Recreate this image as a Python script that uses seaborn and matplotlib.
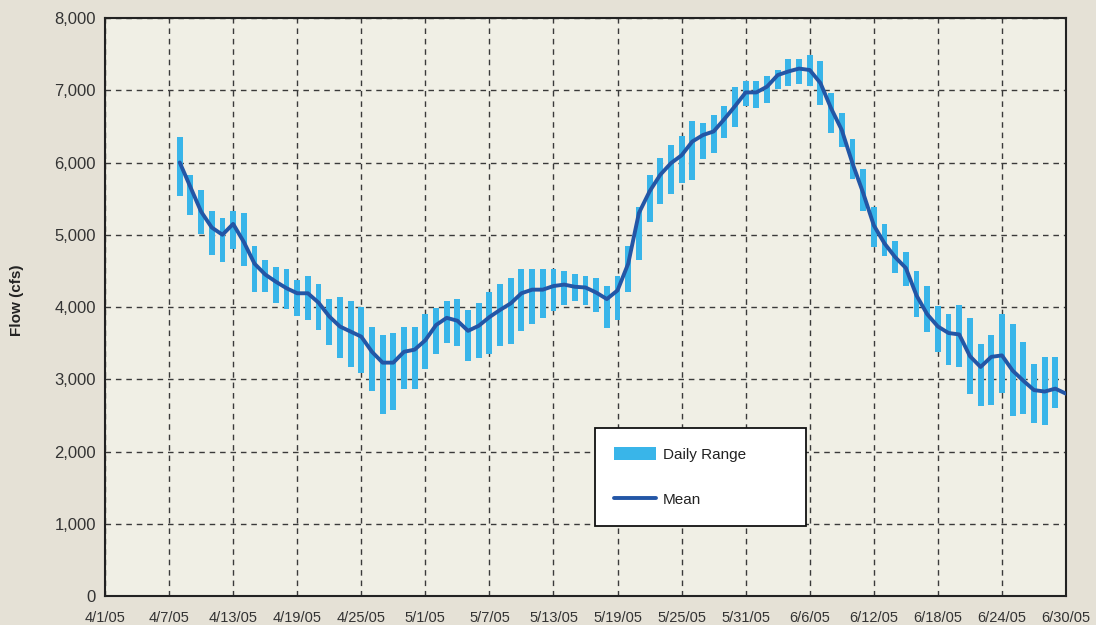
import numpy as np
import pandas as pd
import matplotlib
matplotlib.use("Agg")
import matplotlib.pyplot as plt
import seaborn as sns

# ---------------- data ----------------
start_date = "2005-04-01"
end_date = "2005-06-30"

# Daily range (low / high), 4/8/05 .. 6/29/05
range_start = "2005-04-08"
range_low = [5536, 5273, 5010, 4720, 4627, 4803, 4567, 4208, 4208, 4055,
             3972, 3875, 3820, 3682, 3474, 3294, 3170, 3087, 2837, 2519,
             2574, 2865, 2865, 3142, 3350, 3502, 3460, 3253, 3294, 3350,
             3460, 3488, 3668, 3765, 3848, 3945, 4028, 4083, 4028, 3931,
             3709, 3820, 4212, 4651, 5181, 5426, 5564, 5721, 5758, 6048,
             6136, 6343, 6496, 6786, 6759, 6828, 7022, 7063, 7091, 7063,
             6800, 6413, 6219, 5776, 5333, 4835, 4710, 4475, 4295, 3866,
             3658, 3381, 3202, 3174, 2800, 2634, 2648, 2814, 2496, 2523,
             2399, 2371, 2606]
range_high = [6357, 5827, 5619, 5333, 5232, 5333, 5301, 4844, 4651, 4553,
              4526, 4374, 4429, 4318, 4111, 4138, 4083, 4000, 3723, 3612,
              3640, 3723, 3723, 3903, 3986, 4083, 4111, 3958, 4055, 4208,
              4318, 4401, 4526, 4526, 4526, 4526, 4498, 4457, 4429, 4401,
              4290, 4429, 4844, 5388, 5827, 6067, 6242, 6367, 6574, 6551,
              6657, 6782, 7045, 7128, 7128, 7197, 7280, 7433, 7433, 7488,
              7405, 6962, 6685, 6325, 5910, 5384, 5149, 4913, 4761, 4498,
              4290, 4014, 3903, 4028, 3848, 3488, 3612, 3903, 3765, 3516,
              3211, 3308, 3308]

# Mean flow, 4/8/05 .. 6/30/05
mean_start = "2005-04-08"
mean_flow = [6000, 5660, 5320, 5100, 5000, 5150, 4900, 4600, 4450, 4350,
             4260, 4190, 4190, 4060, 3870, 3730, 3660, 3590, 3380, 3230,
             3230, 3380, 3410, 3540, 3750, 3850, 3810, 3670, 3740, 3860,
             3960, 4050, 4190, 4240, 4240, 4290, 4310, 4280, 4270, 4200,
             4110, 4230, 4600, 5300, 5600, 5830, 5990, 6100, 6290, 6380,
             6430, 6600, 6780, 6970, 6970, 7050, 7210, 7260, 7300, 7280,
             7100, 6750, 6450, 5990, 5580, 5130, 4880, 4690, 4540, 4160,
             3900, 3730, 3640, 3620, 3320, 3170, 3310, 3330, 3120, 2980,
             2850, 2830, 2870, 2800]

xtick_labels = ["4/1/05", "4/7/05", "4/13/05", "4/19/05", "4/25/05", "5/1/05",
                "5/7/05", "5/13/05", "5/19/05", "5/25/05", "5/31/05", "6/6/05",
                "6/12/05", "6/18/05", "6/24/05", "6/30/05"]
yticks = [0, 1000, 2000, 3000, 4000, 5000, 6000, 7000, 8000]
ytick_labels = ["0", "1,000", "2,000", "3,000", "4,000", "5,000", "6,000", "7,000", "8,000"]

series_labels = ["Daily Range", "Mean"]
y_label = "Flow (cfs)"

# ---------------- styling ----------------
FIG_BG = "#E5E1D6"
AX_BG = "#F0EFE5"
BAR_COLOR = "#39B5E9"
LINE_COLOR = "#2356A6"

sns.set_style("white")
plt.rcParams["font.family"] = ["Liberation Sans", "DejaVu Sans"]

df_range = pd.DataFrame({
    "date": pd.date_range(range_start, periods=len(range_low)),
    "low": range_low,
    "high": range_high,
})
df_mean = pd.DataFrame({
    "date": pd.date_range(mean_start, periods=len(mean_flow)),
    "mean": mean_flow,
})

fig = plt.figure(figsize=(10.96, 6.25), dpi=100, facecolor=FIG_BG)
ax = fig.add_axes([105 / 1096, 1 - 596 / 625, (1066 - 105) / 1096, (596 - 18) / 625])
ax.set_facecolor(AX_BG)

bars = ax.bar(df_range["date"], df_range["high"] - df_range["low"],
              bottom=df_range["low"], width=0.55, color=BAR_COLOR,
              linewidth=0, label=series_labels[0], zorder=2)
sns.lineplot(data=df_mean, x="date", y="mean", ax=ax, color=LINE_COLOR,
             linewidth=2.8, label=series_labels[1], zorder=3)

xticks = pd.date_range(start_date, end_date, freq="6D")
ax.set_xlim(pd.Timestamp(start_date), pd.Timestamp(end_date))
ax.set_xticks(xticks)
ax.set_xticklabels(xtick_labels, fontsize=10.5, color="#333333")
ax.set_ylim(0, 8000)
ax.set_yticks(yticks)
ax.set_yticklabels(ytick_labels, fontsize=12, color="#333333")

ax.set_xlabel("")
ax.set_ylabel(y_label, fontsize=11, fontweight="bold", color="#222222")
ax.yaxis.set_label_coords(-0.0845, 0.512)

ax.tick_params(axis="both", direction="inout", length=9, width=1, color="#222222")
ax.tick_params(axis="x", pad=6)
ax.tick_params(axis="y", pad=2)

ax.set_axisbelow(True)
ax.grid(True, which="major", axis="both", color="#3a3a3a", linewidth=1.0,
        linestyle=(0, (4, 3.5)))
for s in ax.spines.values():
    s.set_visible(True)
    s.set_color("#222222")
    s.set_linewidth(1.5)

handles, labels = ax.get_legend_handles_labels()
order = [labels.index(series_labels[0]), labels.index(series_labels[1])]
leg = ax.legend([handles[i] for i in order], [labels[i] for i in order],
                loc="upper left", bbox_to_anchor=(0.5098, 0.114, 0.2196, 0.1766),
                mode="expand", borderaxespad=0, fontsize=11, frameon=True,
                fancybox=False, shadow=False, framealpha=1, edgecolor="#111111",
                facecolor="white", handlelength=2.75, handleheight=0.9,
                handletextpad=0.45, labelspacing=2.0, borderpad=1.25)
leg.get_frame().set_linewidth(1.3)
for t in leg.get_texts():
    t.set_color("#222222")

fig.savefig("out.png", dpi=100, facecolor=FIG_BG)
